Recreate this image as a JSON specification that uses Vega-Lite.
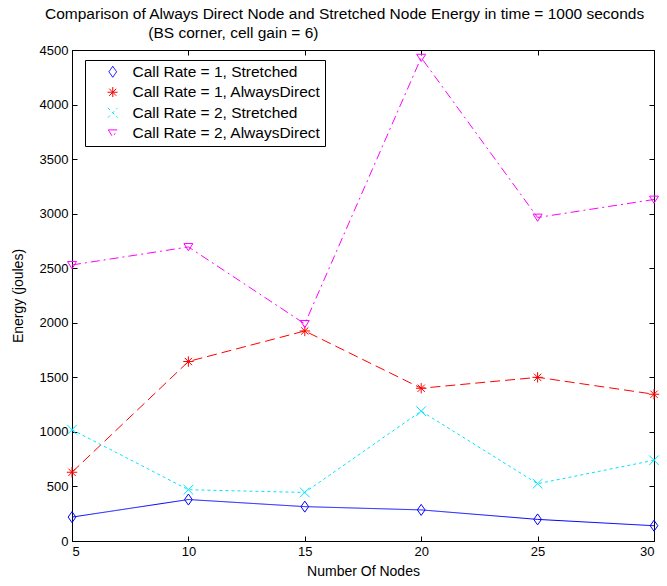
{
  "$schema": "https://vega.github.io/schema/vega-lite/v6.json",
  "width": 582,
  "height": 491,
  "autosize": "none",
  "padding": {"left": 72, "top": 50, "right": 13, "bottom": 45},
  "background": "white",
  "title": {
    "text": ["Comparison of Always Direct Node and Stretched Node Energy in time = 1000 seconds", "\u200b\u00a0\u00a0\u00a0\u00a0\u00a0\u00a0\u00a0\u00a0\u00a0\u00a0\u00a0\u00a0\u00a0\u00a0\u00a0\u00a0\u00a0\u00a0\u00a0\u00a0\u00a0\u00a0\u00a0\u00a0(BS corner, cell gain = 6)"],
    "anchor": "start",
    "frame": "group",
    "dx": -27,
    "fontSize": 15.5,
    "fontWeight": "normal",
    "lineHeight": 19,
    "offset": 3,
    "color": "black",
    "limit": 700
  },
  "data": {
    "values": [
      {"n": 5, "series": "Call Rate = 1, Stretched", "e": 219},
      {"n": 10, "series": "Call Rate = 1, Stretched", "e": 380},
      {"n": 15, "series": "Call Rate = 1, Stretched", "e": 315},
      {"n": 20, "series": "Call Rate = 1, Stretched", "e": 285},
      {"n": 25, "series": "Call Rate = 1, Stretched", "e": 198},
      {"n": 30, "series": "Call Rate = 1, Stretched", "e": 140},
      {"n": 5, "series": "Call Rate = 1, AlwaysDirect", "e": 630},
      {"n": 10, "series": "Call Rate = 1, AlwaysDirect", "e": 1645},
      {"n": 15, "series": "Call Rate = 1, AlwaysDirect", "e": 1925},
      {"n": 20, "series": "Call Rate = 1, AlwaysDirect", "e": 1400},
      {"n": 25, "series": "Call Rate = 1, AlwaysDirect", "e": 1500},
      {"n": 30, "series": "Call Rate = 1, AlwaysDirect", "e": 1345},
      {"n": 5, "series": "Call Rate = 2, Stretched", "e": 1020},
      {"n": 10, "series": "Call Rate = 2, Stretched", "e": 470},
      {"n": 15, "series": "Call Rate = 2, Stretched", "e": 445},
      {"n": 20, "series": "Call Rate = 2, Stretched", "e": 1190},
      {"n": 25, "series": "Call Rate = 2, Stretched", "e": 525},
      {"n": 30, "series": "Call Rate = 2, Stretched", "e": 740},
      {"n": 5, "series": "Call Rate = 2, AlwaysDirect", "e": 2530},
      {"n": 10, "series": "Call Rate = 2, AlwaysDirect", "e": 2695},
      {"n": 15, "series": "Call Rate = 2, AlwaysDirect", "e": 1990},
      {"n": 20, "series": "Call Rate = 2, AlwaysDirect", "e": 4430},
      {"n": 25, "series": "Call Rate = 2, AlwaysDirect", "e": 2965},
      {"n": 30, "series": "Call Rate = 2, AlwaysDirect", "e": 3130}
    ]
  },
  "layer": [
    {
      "mark": {"type": "line", "strokeWidth": 1, "clip": false},
      "encoding": {
        "x": {
          "field": "n", "type": "quantitative",
          "scale": {"domain": [5, 30], "nice": false, "zero": false},
          "axis": {"orient": "bottom", "values": [5, 10, 15, 20, 25, 30], "title": "Number Of Nodes", "titlePadding": 6}
        },
        "y": {
          "field": "e", "type": "quantitative",
          "scale": {"domain": [0, 4500], "nice": false},
          "axis": {"orient": "left", "format": "d", "values": [0, 500, 1000, 1500, 2000, 2500, 3000, 3500, 4000, 4500], "title": "Energy (joules)", "titlePadding": 14}
        },
        "color": {
          "field": "series", "type": "nominal",
          "scale": {
            "domain": ["Call Rate = 1, Stretched", "Call Rate = 1, AlwaysDirect", "Call Rate = 2, Stretched", "Call Rate = 2, AlwaysDirect"],
            "range": ["#0000ff", "#ff0000", "#00e5ff", "#ff00ff"]
          },
          "legend": {
            "title": null,
            "orient": "none",
            "legendX": 13,
            "legendY": 10,
            "strokeColor": "black",
            "fillColor": "white",
            "padding": 4,
            "labelFontSize": 15.5,
            "labelColor": "black",
            "labelLimit": 400,
            "symbolSize": 81,
            "symbolOffset": 16,
            "labelOffset": 12,
            "rowPadding": 3.5,
            "symbolType": "circle",
            "encode": {
              "symbols": {
                "update": {
                  "shape": {"signal": "datum.value === 'Call Rate = 1, Stretched' ? 'M-3,0L3,0M0,-1.2L0.8,0L0,1.2L-0.8,0Z' : datum.value === 'Call Rate = 1, AlwaysDirect' ? 'M-3,0L-1.9,0M-1.4,0L-0.3,0M0.3,0L1.4,0M1.9,0L3,0M-1,0L1,0M0,-1L0,1M-0.7,-0.7L0.7,0.7M-0.7,0.7L0.7,-0.7' : datum.value === 'Call Rate = 2, Stretched' ? 'M-3,0L-2.5,0M-2.1,0L-1.6,0M-1.2,0L-0.7,0M0.7,0L1.2,0M1.6,0L2.1,0M2.5,0L3,0M-0.6,-0.6L0.6,0.6M-0.6,0.6L0.6,-0.6' : 'M-3,0L3,0M-1.1,-0.8L1.1,-0.8L0,0.9Z'"},
                  "fill": {"value": "transparent"},
                  "strokeWidth": {"value": 1},
                  "strokeDash": {"value": []},
                  "size": {"value": 81}
                }
              }
            }
          }
        },
        "strokeDash": {
          "field": "series", "type": "nominal",
          "scale": {
            "domain": ["Call Rate = 1, Stretched", "Call Rate = 1, AlwaysDirect", "Call Rate = 2, Stretched", "Call Rate = 2, AlwaysDirect"],
            "range": [[1, 0], [10, 5], [3, 3], [9, 4, 2, 4]]
          },
          "legend": null
        }
      }
    },
    {
      "mark": {"type": "point", "filled": false, "strokeWidth": 1, "opacity": 1, "clip": false},
      "encoding": {
        "x": {
          "field": "n", "type": "quantitative",
          "axis": {"orient": "top", "values": [5, 10, 15, 20, 25, 30], "labels": false, "title": null}
        },
        "y": {
          "field": "e", "type": "quantitative",
          "axis": {"orient": "right", "values": [0, 500, 1000, 1500, 2000, 2500, 3000, 3500, 4000, 4500], "labels": false, "title": null}
        },
        "color": {"field": "series", "type": "nominal", "legend": null},
        "shape": {
          "field": "series", "type": "nominal",
          "scale": {
            "domain": ["Call Rate = 1, Stretched", "Call Rate = 1, AlwaysDirect", "Call Rate = 2, Stretched", "Call Rate = 2, AlwaysDirect"],
            "range": ["M0,-1L0.7,0L0,1L-0.7,0Z", "M-1,0L1,0M0,-1L0,1M-0.7,-0.7L0.7,0.7M-0.7,0.7L0.7,-0.7", "M-1,-1L1,1M-1,1L1,-1", "M-1,-0.75L1,-0.75L0,0.85Z"]
          },
          "legend": null
        },
        "size": {
          "field": "series", "type": "nominal",
          "scale": {
            "domain": ["Call Rate = 1, Stretched", "Call Rate = 1, AlwaysDirect", "Call Rate = 2, Stretched", "Call Rate = 2, AlwaysDirect"],
            "range": [121, 81, 36, 144]
          },
          "legend": null
        }
      }
    }
  ],
  "resolve": {"axis": {"x": "independent", "y": "independent"}},
  "config": {
    "font": "Liberation Sans",
    "view": {"stroke": "black", "strokeWidth": 1},
    "axis": {
      "grid": false,
      "domainColor": "black",
      "tickColor": "black",
      "labelColor": "black",
      "titleColor": "black",
      "labelFontSize": 13,
      "titleFontSize": 14,
      "titleFontWeight": "normal",
      "tickSize": -5,
      "labelPadding": 9
    }
  }
}
